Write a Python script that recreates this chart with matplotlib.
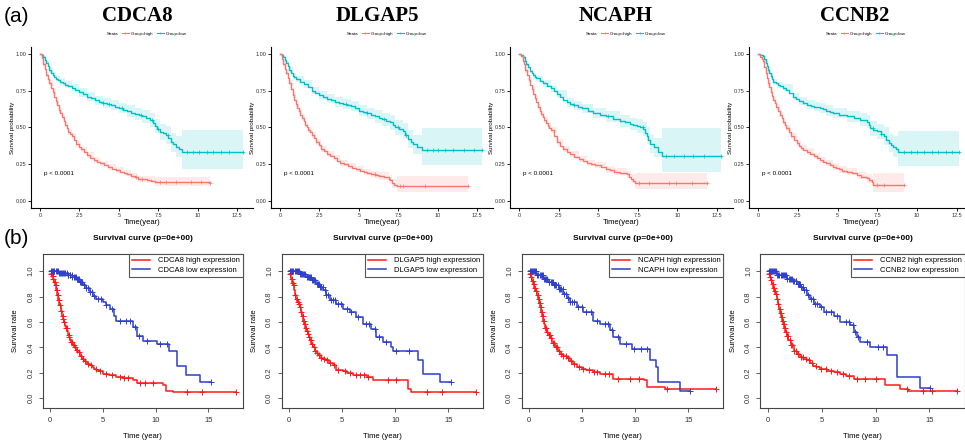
import numpy as np
import matplotlib
matplotlib.use("Agg")
import matplotlib.pyplot as plt
from matplotlib.lines import Line2D

plt.rcParams['font.family'] = ['Liberation Sans', 'DejaVu Sans']

GENES = ["CDCA8", "DLGAP5", "NCAPH", "CCNB2"]

# ================= top row (ggsurvplot style) =================
# ---- CDCA8 ----
c8_hi_t = [0, 0.1, 0.2, 0.3, 0.4, 0.5, 0.6, 0.7, 0.8, 0.9, 1.0, 1.1, 1.2, 1.3, 1.4, 1.5, 1.6, 1.7, 1.8, 1.9, 2.0, 2.15, 2.3, 2.45, 2.6, 2.8, 3.0, 3.2, 3.4, 3.6, 3.8, 4.05, 4.3, 4.55, 4.8, 5.05, 5.3, 5.55, 5.8, 6.0, 6.2, 6.5, 6.8, 7.05, 7.3, 10.8]
c8_hi_s = [1.0, 0.97, 0.93, 0.90, 0.86, 0.83, 0.80, 0.77, 0.74, 0.71, 0.68, 0.65, 0.62, 0.595, 0.57, 0.545, 0.52, 0.495, 0.47, 0.455, 0.44, 0.415, 0.39, 0.37, 0.35, 0.33, 0.31, 0.295, 0.28, 0.268, 0.255, 0.243, 0.23, 0.22, 0.21, 0.20, 0.19, 0.18, 0.17, 0.16, 0.15, 0.147, 0.145, 0.137, 0.13, 0.125]
c8_hi_ci_t = [0, 0.2, 0.4, 0.6, 0.8, 1.0, 1.2, 1.4, 1.6, 1.8, 2.0, 2.3, 2.6, 3.0, 3.4, 3.8, 4.3, 4.8, 5.3, 5.8, 6.2, 6.8, 7.3, 10.8]
c8_hi_lo = [1.0, 0.91, 0.84, 0.78, 0.72, 0.66, 0.60, 0.55, 0.50, 0.45, 0.42, 0.37, 0.33, 0.29, 0.26, 0.235, 0.21, 0.19, 0.17, 0.15, 0.13, 0.12, 0.10, 0.08]
c8_hi_up = [1.0, 0.95, 0.88, 0.82, 0.76, 0.70, 0.64, 0.59, 0.54, 0.49, 0.46, 0.41, 0.37, 0.33, 0.30, 0.275, 0.25, 0.23, 0.21, 0.19, 0.17, 0.17, 0.16, 0.19]
c8_hi_cens = [6.1, 6.5, 7.6, 8.0, 8.6, 9.6, 10.2, 10.8]
c8_lo_t = [0, 0.1, 0.2, 0.3, 0.4, 0.5, 0.6, 0.7, 0.8, 0.9, 1.0, 1.15, 1.3, 1.45, 1.6, 1.8, 2.0, 2.25, 2.5, 2.75, 3.0, 3.25, 3.5, 3.75, 4.0, 4.25, 4.5, 4.75, 5.0, 5.25, 5.5, 5.75, 6.0, 6.25, 6.5, 6.75, 7.0, 7.15, 7.3, 7.45, 7.6, 7.8, 8.0, 8.15, 8.3, 8.45, 8.6, 8.8, 9.0, 12.9]
c8_lo_s = [1.0, 0.99, 0.98, 0.96, 0.94, 0.915, 0.89, 0.87, 0.86, 0.845, 0.83, 0.82, 0.81, 0.80, 0.79, 0.78, 0.77, 0.755, 0.74, 0.725, 0.71, 0.697, 0.685, 0.675, 0.665, 0.66, 0.655, 0.642, 0.63, 0.62, 0.61, 0.60, 0.59, 0.582, 0.575, 0.562, 0.55, 0.53, 0.51, 0.49, 0.47, 0.46, 0.45, 0.425, 0.40, 0.385, 0.37, 0.35, 0.33, 0.33]
c8_lo_ci_t = [0, 0.2, 0.4, 0.6, 0.8, 1.0, 1.3, 1.6, 2.0, 2.5, 3.0, 3.5, 4.0, 4.5, 5.0, 5.5, 6.0, 6.5, 7.0, 7.3, 7.6, 8.0, 8.3, 8.6, 9.0, 12.9]
c8_lo_lo = [1.0, 0.975, 0.93, 0.87, 0.84, 0.81, 0.785, 0.765, 0.745, 0.71, 0.68, 0.655, 0.63, 0.62, 0.595, 0.57, 0.55, 0.53, 0.50, 0.46, 0.415, 0.39, 0.335, 0.30, 0.22, 0.22]
c8_lo_up = [1.0, 0.985, 0.95, 0.91, 0.88, 0.85, 0.835, 0.815, 0.795, 0.77, 0.74, 0.715, 0.70, 0.69, 0.665, 0.65, 0.63, 0.62, 0.60, 0.56, 0.525, 0.51, 0.465, 0.44, 0.48, 0.48]
c8_lo_cens = [4.0, 4.4, 5.2, 6.4, 7.1, 7.5, 8.1, 9.3, 9.7, 10.1, 10.6, 11.0, 11.5, 12.0, 12.9]

# ---- DLGAP5 ----
d5_hi_t = [0, 0.1, 0.2, 0.3, 0.4, 0.5, 0.6, 0.7, 0.8, 0.9, 1.0, 1.1, 1.2, 1.3, 1.4, 1.5, 1.6, 1.7, 1.8, 1.9, 2.0, 2.15, 2.3, 2.45, 2.6, 2.8, 3.0, 3.2, 3.4, 3.6, 3.8, 4.05, 4.3, 4.55, 4.8, 5.05, 5.3, 5.55, 5.8, 6.05, 6.3, 6.6, 6.9, 7.0, 7.1, 7.25, 7.4, 11.9]
d5_hi_s = [1.0, 0.965, 0.93, 0.90, 0.87, 0.835, 0.80, 0.76, 0.72, 0.69, 0.66, 0.635, 0.61, 0.588, 0.565, 0.542, 0.52, 0.502, 0.485, 0.467, 0.45, 0.425, 0.40, 0.378, 0.355, 0.337, 0.32, 0.305, 0.29, 0.275, 0.26, 0.248, 0.235, 0.225, 0.215, 0.205, 0.195, 0.188, 0.18, 0.175, 0.17, 0.16, 0.15, 0.14, 0.12, 0.11, 0.10, 0.10]
d5_hi_ci_t = [0, 0.2, 0.4, 0.6, 0.8, 1.0, 1.2, 1.4, 1.6, 1.8, 2.0, 2.3, 2.6, 3.0, 3.4, 3.8, 4.3, 4.8, 5.3, 5.8, 6.3, 6.9, 7.1, 7.4, 11.9]
d5_hi_lo = [1.0, 0.91, 0.85, 0.78, 0.70, 0.64, 0.59, 0.545, 0.50, 0.465, 0.43, 0.38, 0.335, 0.30, 0.27, 0.24, 0.215, 0.195, 0.175, 0.155, 0.145, 0.125, 0.09, 0.06, 0.06]
d5_hi_up = [1.0, 0.95, 0.89, 0.82, 0.74, 0.68, 0.63, 0.585, 0.54, 0.505, 0.47, 0.42, 0.375, 0.34, 0.31, 0.28, 0.255, 0.235, 0.215, 0.205, 0.195, 0.175, 0.15, 0.17, 0.17]
d5_hi_cens = [6.0, 7.6, 7.8, 9.2, 11.9]
d5_lo_t = [0, 0.1, 0.2, 0.3, 0.4, 0.5, 0.6, 0.7, 0.8, 0.9, 1.0, 1.25, 1.5, 1.75, 2.0, 2.25, 2.5, 2.75, 3.0, 3.25, 3.5, 3.75, 4.0, 4.25, 4.5, 4.75, 5.0, 5.25, 5.5, 5.75, 6.0, 6.25, 6.5, 6.75, 7.0, 7.15, 7.3, 7.55, 7.8, 7.95, 8.1, 8.3, 8.45, 8.7, 9.0, 12.8]
d5_lo_s = [1.0, 0.99, 0.98, 0.96, 0.94, 0.915, 0.89, 0.87, 0.85, 0.84, 0.83, 0.812, 0.795, 0.772, 0.75, 0.735, 0.72, 0.707, 0.695, 0.685, 0.675, 0.667, 0.66, 0.652, 0.645, 0.63, 0.615, 0.605, 0.595, 0.585, 0.575, 0.565, 0.555, 0.545, 0.535, 0.515, 0.50, 0.487, 0.475, 0.447, 0.42, 0.40, 0.385, 0.37, 0.348, 0.348]
d5_lo_ci_t = [0, 0.2, 0.4, 0.6, 0.8, 1.0, 1.5, 2.0, 2.5, 3.0, 3.5, 4.0, 4.5, 5.0, 5.5, 6.0, 6.5, 7.0, 7.3, 7.8, 8.1, 8.45, 9.0, 12.8]
d5_lo_lo = [1.0, 0.975, 0.93, 0.87, 0.83, 0.81, 0.77, 0.725, 0.69, 0.665, 0.64, 0.625, 0.61, 0.575, 0.555, 0.53, 0.51, 0.485, 0.45, 0.42, 0.36, 0.32, 0.245, 0.245]
d5_lo_up = [1.0, 0.985, 0.95, 0.91, 0.87, 0.85, 0.82, 0.775, 0.75, 0.725, 0.71, 0.695, 0.68, 0.655, 0.635, 0.62, 0.60, 0.585, 0.55, 0.53, 0.48, 0.45, 0.495, 0.495]
d5_lo_cens = [4.2, 5.5, 6.6, 7.5, 8.0, 9.3, 9.7, 10.0, 10.5, 11.0, 11.7, 12.3, 12.8]

# ---- NCAPH ----
nc_hi_t = [0, 0.1, 0.25, 0.3, 0.4, 0.5, 0.6, 0.7, 0.8, 0.9, 1.0, 1.1, 1.2, 1.3, 1.4, 1.5, 1.6, 1.7, 1.8, 1.9, 2.0, 2.2, 2.4, 2.6, 2.8, 3.0, 3.2, 3.5, 3.8, 4.05, 4.3, 4.55, 4.8, 5.15, 5.5, 5.75, 6.0, 6.4, 6.8, 6.95, 7.1, 7.2, 7.35, 11.9]
nc_hi_s = [1.0, 0.985, 0.955, 0.93, 0.89, 0.855, 0.82, 0.79, 0.76, 0.73, 0.70, 0.67, 0.64, 0.615, 0.59, 0.57, 0.55, 0.53, 0.51, 0.495, 0.48, 0.44, 0.40, 0.377, 0.355, 0.336, 0.318, 0.30, 0.284, 0.272, 0.26, 0.252, 0.245, 0.23, 0.216, 0.208, 0.20, 0.19, 0.18, 0.165, 0.148, 0.134, 0.12, 0.12]
nc_hi_ci_t = [0, 0.25, 0.4, 0.6, 0.8, 1.0, 1.2, 1.4, 1.6, 1.8, 2.0, 2.4, 2.8, 3.2, 3.8, 4.3, 4.8, 5.5, 6.0, 6.8, 7.1, 7.35, 11.9]
nc_hi_lo = [1.0, 0.94, 0.87, 0.80, 0.74, 0.68, 0.62, 0.57, 0.53, 0.49, 0.46, 0.38, 0.335, 0.298, 0.264, 0.24, 0.222, 0.192, 0.175, 0.155, 0.12, 0.08, 0.08]
nc_hi_up = [1.0, 0.97, 0.91, 0.84, 0.78, 0.72, 0.66, 0.61, 0.57, 0.53, 0.50, 0.42, 0.375, 0.338, 0.304, 0.28, 0.268, 0.24, 0.225, 0.205, 0.18, 0.19, 0.19]
nc_hi_cens = [7.6, 8.2, 9.5, 9.9, 10.9, 11.9]
nc_lo_t = [0, 0.1, 0.25, 0.35, 0.45, 0.55, 0.7, 0.8, 0.9, 1.0, 1.1, 1.3, 1.5, 1.75, 2.0, 2.2, 2.4, 2.6, 2.8, 3.0, 3.25, 3.5, 3.75, 4.0, 4.35, 4.7, 5.1, 5.5, 5.95, 6.4, 6.7, 7.0, 7.2, 7.45, 7.65, 7.85, 7.95, 8.07, 8.17, 8.27, 8.5, 8.75, 9.0, 12.75]
nc_lo_s = [1.0, 0.993, 0.977, 0.955, 0.93, 0.91, 0.886, 0.87, 0.855, 0.845, 0.835, 0.818, 0.80, 0.782, 0.765, 0.745, 0.727, 0.707, 0.688, 0.67, 0.66, 0.65, 0.64, 0.63, 0.615, 0.60, 0.587, 0.575, 0.56, 0.545, 0.534, 0.523, 0.516, 0.51, 0.50, 0.49, 0.465, 0.443, 0.415, 0.386, 0.364, 0.335, 0.307, 0.307]
nc_lo_ci_t = [0, 0.25, 0.45, 0.7, 0.9, 1.1, 1.5, 2.0, 2.4, 3.0, 3.5, 4.0, 4.7, 5.5, 6.4, 7.0, 7.45, 7.85, 8.07, 8.27, 8.5, 9.0, 12.75]
nc_lo_lo = [1.0, 0.97, 0.92, 0.87, 0.83, 0.81, 0.775, 0.74, 0.70, 0.64, 0.62, 0.60, 0.565, 0.54, 0.505, 0.48, 0.465, 0.44, 0.39, 0.325, 0.30, 0.195, 0.195]
nc_lo_up = [1.0, 0.985, 0.94, 0.90, 0.87, 0.85, 0.825, 0.79, 0.755, 0.70, 0.68, 0.66, 0.635, 0.61, 0.585, 0.565, 0.555, 0.54, 0.50, 0.45, 0.43, 0.495, 0.495]
nc_lo_cens = [3.5, 5.6, 7.8, 9.3, 9.8, 10.4, 11.0, 11.7, 12.75]

# ---- CCNB2 ----
cb_hi_t = [0, 0.15, 0.25, 0.32, 0.4, 0.5, 0.57, 0.63, 0.7, 0.8, 0.88, 0.95, 1.05, 1.15, 1.25, 1.37, 1.48, 1.6, 1.7, 1.79, 1.95, 2.1, 2.25, 2.42, 2.55, 2.7, 2.85, 3.05, 3.25, 3.5, 3.7, 3.9, 4.1, 4.3, 4.5, 4.73, 4.9, 5.1, 5.3, 5.57, 5.9, 6.2, 6.5, 6.83, 7.0, 7.14, 7.25, 9.2]
cb_hi_s = [1.0, 0.98, 0.965, 0.95, 0.91, 0.87, 0.835, 0.80, 0.775, 0.74, 0.715, 0.69, 0.665, 0.64, 0.613, 0.586, 0.563, 0.54, 0.517, 0.495, 0.467, 0.44, 0.415, 0.393, 0.376, 0.36, 0.348, 0.336, 0.32, 0.305, 0.292, 0.28, 0.267, 0.255, 0.244, 0.234, 0.224, 0.215, 0.207, 0.20, 0.188, 0.177, 0.166, 0.155, 0.143, 0.132, 0.11, 0.11]
cb_hi_ci_t = [0, 0.15, 0.32, 0.5, 0.63, 0.8, 0.95, 1.15, 1.37, 1.6, 1.79, 2.1, 2.42, 2.7, 3.05, 3.5, 3.9, 4.3, 4.73, 5.1, 5.57, 6.2, 6.83, 7.14, 7.25, 9.2]
cb_hi_lo = [1.0, 0.975, 0.935, 0.85, 0.78, 0.72, 0.67, 0.62, 0.565, 0.52, 0.475, 0.42, 0.373, 0.34, 0.315, 0.285, 0.26, 0.235, 0.213, 0.193, 0.177, 0.152, 0.125, 0.10, 0.06, 0.06]
cb_hi_up = [1.0, 0.985, 0.965, 0.89, 0.82, 0.76, 0.71, 0.66, 0.607, 0.56, 0.515, 0.46, 0.413, 0.38, 0.357, 0.325, 0.30, 0.277, 0.256, 0.237, 0.224, 0.20, 0.185, 0.17, 0.19, 0.19]
cb_hi_cens = [7.5, 7.9, 9.2]
cb_lo_t = [0, 0.15, 0.32, 0.4, 0.5, 0.57, 0.63, 0.7, 0.8, 0.88, 0.95, 1.1, 1.25, 1.4, 1.58, 1.75, 1.95, 2.2, 2.4, 2.6, 2.8, 3.05, 3.3, 3.5, 3.7, 3.9, 4.1, 4.3, 4.5, 4.73, 5.1, 5.57, 6.0, 6.4, 6.83, 6.95, 7.04, 7.25, 7.46, 7.7, 7.9, 8.05, 8.2, 8.35, 8.5, 8.65, 8.82, 12.6]
cb_lo_s = [1.0, 0.995, 0.984, 0.965, 0.94, 0.915, 0.89, 0.87, 0.85, 0.83, 0.81, 0.80, 0.79, 0.78, 0.77, 0.755, 0.735, 0.71, 0.695, 0.68, 0.668, 0.655, 0.647, 0.64, 0.636, 0.632, 0.624, 0.615, 0.607, 0.60, 0.587, 0.575, 0.563, 0.552, 0.54, 0.518, 0.495, 0.484, 0.473, 0.457, 0.44, 0.417, 0.393, 0.382, 0.37, 0.353, 0.336, 0.336]
cb_lo_ci_t = [0, 0.15, 0.32, 0.5, 0.63, 0.8, 0.95, 1.2, 1.58, 2.2, 2.6, 3.05, 3.5, 3.9, 4.3, 4.73, 5.57, 6.4, 6.83, 7.04, 7.46, 7.9, 8.2, 8.5, 8.82, 12.6]
cb_lo_lo = [1.0, 0.99, 0.975, 0.925, 0.87, 0.83, 0.79, 0.77, 0.745, 0.685, 0.655, 0.625, 0.61, 0.60, 0.58, 0.565, 0.54, 0.51, 0.495, 0.445, 0.42, 0.38, 0.33, 0.30, 0.24, 0.24]
cb_lo_up = [1.0, 0.998, 0.99, 0.955, 0.91, 0.87, 0.83, 0.81, 0.795, 0.735, 0.705, 0.685, 0.67, 0.665, 0.65, 0.635, 0.61, 0.595, 0.585, 0.545, 0.525, 0.50, 0.455, 0.44, 0.477, 0.477]
cb_lo_cens = [7.2, 7.7, 9.2, 9.6, 10.0, 10.4, 10.9, 11.3, 11.8, 12.2, 12.6]

# ================= bottom row (base R style) =================
b_c8_hi_t = [0, 0.15, 0.3, 0.4, 0.5, 0.6, 0.7, 0.8, 0.9, 1.0, 1.1, 1.2, 1.3, 1.4, 1.5, 1.6, 1.7, 1.8, 1.9, 2.0, 2.15, 2.3, 2.45, 2.6, 2.8, 3.0, 3.2, 3.4, 3.6, 3.8, 4.0, 4.2, 4.4, 4.6, 5.0, 5.6, 6.3, 7.0, 7.9, 8.2, 10.7, 11.0, 11.7, 17.6]
b_c8_hi_s = [0.98, 0.96, 0.94, 0.915, 0.89, 0.85, 0.81, 0.77, 0.73, 0.69, 0.65, 0.625, 0.60, 0.57, 0.55, 0.525, 0.50, 0.48, 0.46, 0.44, 0.42, 0.40, 0.38, 0.36, 0.335, 0.31, 0.295, 0.28, 0.27, 0.26, 0.245, 0.23, 0.22, 0.21, 0.19, 0.18, 0.165, 0.155, 0.14, 0.118, 0.10, 0.06, 0.047, 0.047]
b_c8_hi_cens = [0.12, 0.27, 0.33, 0.46, 0.58, 0.66, 0.79, 0.88, 0.97, 1.08, 1.19, 1.23, 1.37, 1.52, 1.58, 1.77, 1.84, 2.03, 2.12, 2.28, 2.41, 2.57, 2.72, 2.93, 3.14, 3.32, 3.63, 3.92, 4.33, 4.71, 5.32, 5.84, 6.61, 7.02, 7.44, 8.52, 9.03, 9.74, 13.0, 14.4, 17.6]
b_c8_lo_t = [0, 0.8, 1.6, 2.1, 2.5, 2.8, 3.1, 3.4, 3.75, 4.1, 4.4, 5.0, 5.3, 5.7, 6.1, 6.3, 7.9, 8.2, 8.8, 10.1, 11.3, 12.0, 12.9, 14.2, 15.3]
b_c8_lo_s = [1.0, 0.985, 0.97, 0.955, 0.94, 0.915, 0.89, 0.865, 0.835, 0.805, 0.78, 0.76, 0.73, 0.70, 0.65, 0.61, 0.56, 0.49, 0.45, 0.425, 0.37, 0.25, 0.18, 0.126, 0.126]
b_c8_lo_cens = [0.08, 0.17, 0.31, 0.42, 0.55, 0.63, 0.74, 0.86, 0.95, 1.04, 1.13, 1.26, 1.34, 1.45, 1.57, 1.66, 1.73, 1.86, 1.94, 2.07, 2.13, 2.24, 2.36, 2.44, 2.58, 2.66, 2.77, 2.85, 2.96, 3.08, 3.22, 3.41, 3.58, 3.83, 4.02, 4.21, 4.52, 4.83, 5.31, 5.92, 6.64, 7.18, 7.62, 8.04, 8.43, 9.21, 10.42, 11.05, 15.3]

b_d5_hi_t = [0, 0.15, 0.3, 0.38, 0.5, 0.6, 0.69, 0.8, 0.9, 1.0, 1.1, 1.2, 1.32, 1.42, 1.52, 1.63, 1.75, 1.85, 1.95, 2.1, 2.26, 2.45, 2.6, 2.73, 3.0, 3.25, 3.5, 3.8, 4.1, 4.46, 5.08, 5.5, 6.0, 7.3, 7.9, 11.2, 11.5, 17.6]
b_d5_hi_s = [0.98, 0.94, 0.91, 0.89, 0.85, 0.81, 0.78, 0.755, 0.74, 0.72, 0.68, 0.645, 0.61, 0.585, 0.555, 0.53, 0.505, 0.48, 0.455, 0.425, 0.40, 0.375, 0.355, 0.337, 0.32, 0.31, 0.297, 0.278, 0.258, 0.224, 0.213, 0.195, 0.18, 0.166, 0.14, 0.074, 0.05, 0.05]
b_d5_hi_cens = [0.14, 0.24, 0.36, 0.47, 0.61, 0.73, 0.82, 0.94, 1.07, 1.16, 1.28, 1.39, 1.47, 1.56, 1.71, 1.83, 1.91, 2.05, 2.18, 2.33, 2.47, 2.62, 2.84, 3.02, 3.27, 3.58, 3.86, 4.23, 4.62, 5.25, 5.73, 6.35, 6.72, 7.05, 7.48, 9.33, 10.12, 13.0, 14.4, 17.6]
b_d5_lo_t = [0, 1.0, 1.63, 2.1, 2.57, 2.9, 3.2, 3.5, 3.83, 4.46, 5.08, 5.7, 6.34, 7.0, 7.75, 8.2, 8.85, 9.6, 9.8, 12.1, 12.6, 14.2, 15.3]
b_d5_lo_s = [1.0, 0.975, 0.955, 0.93, 0.90, 0.875, 0.85, 0.81, 0.77, 0.745, 0.705, 0.68, 0.64, 0.587, 0.547, 0.48, 0.44, 0.40, 0.37, 0.297, 0.19, 0.126, 0.126]
b_d5_lo_cens = [0.06, 0.18, 0.29, 0.41, 0.52, 0.64, 0.71, 0.83, 0.92, 1.02, 1.14, 1.22, 1.33, 1.44, 1.53, 1.67, 1.78, 1.87, 1.98, 2.09, 2.17, 2.28, 2.39, 2.48, 2.61, 2.72, 2.83, 2.94, 3.06, 3.18, 3.37, 3.52, 3.71, 3.94, 4.12, 4.33, 4.61, 4.92, 5.42, 5.88, 6.52, 7.24, 7.58, 8.06, 8.52, 9.12, 10.03, 11.28, 15.3]

b_nc_hi_t = [0, 0.15, 0.3, 0.4, 0.5, 0.6, 0.72, 0.82, 0.92, 1.04, 1.15, 1.25, 1.35, 1.45, 1.55, 1.66, 1.8, 1.98, 2.2, 2.45, 2.7, 2.92, 3.2, 3.55, 3.85, 4.17, 4.5, 5.0, 5.4, 6.0, 6.7, 7.9, 10.8, 11.1, 12.8, 17.6]
b_nc_hi_s = [0.98, 0.95, 0.92, 0.90, 0.87, 0.84, 0.81, 0.78, 0.75, 0.72, 0.68, 0.645, 0.61, 0.58, 0.55, 0.52, 0.495, 0.47, 0.435, 0.40, 0.375, 0.35, 0.335, 0.32, 0.295, 0.27, 0.245, 0.232, 0.22, 0.205, 0.19, 0.153, 0.14, 0.087, 0.07, 0.07]
b_nc_hi_cens = [0.11, 0.23, 0.34, 0.48, 0.57, 0.68, 0.81, 0.9, 1.01, 1.12, 1.24, 1.31, 1.43, 1.55, 1.62, 1.74, 1.88, 1.96, 2.11, 2.22, 2.37, 2.51, 2.68, 2.87, 3.05, 3.24, 3.46, 3.71, 3.97, 4.26, 4.68, 5.12, 5.63, 6.08, 6.44, 7.12, 7.56, 8.42, 9.51, 10.33, 13.0, 17.6]
b_nc_lo_t = [0, 0.7, 1.35, 1.8, 2.3, 2.8, 3.23, 3.55, 3.86, 4.5, 5.1, 6.06, 6.7, 7.6, 7.94, 8.57, 9.66, 11.4, 12.0, 12.15, 14.2, 15.2]
b_nc_lo_s = [1.0, 0.97, 0.94, 0.915, 0.89, 0.86, 0.82, 0.79, 0.76, 0.72, 0.68, 0.61, 0.587, 0.534, 0.48, 0.43, 0.39, 0.297, 0.245, 0.126, 0.06, 0.06]
b_nc_lo_cens = [0.07, 0.16, 0.28, 0.37, 0.49, 0.58, 0.69, 0.77, 0.88, 0.99, 1.09, 1.18, 1.29, 1.42, 1.51, 1.63, 1.72, 1.84, 1.93, 2.04, 2.16, 2.26, 2.38, 2.49, 2.57, 2.69, 2.81, 2.9, 3.03, 3.16, 3.33, 3.48, 3.67, 3.89, 4.08, 4.27, 4.63, 4.96, 5.38, 5.83, 6.37, 7.11, 7.48, 7.84, 8.36, 9.14, 9.92, 10.58, 11.07, 15.2]

b_cb_hi_t = [0, 0.15, 0.25, 0.37, 0.5, 0.6, 0.68, 0.8, 0.9, 1.0, 1.1, 1.2, 1.3, 1.4, 1.5, 1.6, 1.75, 1.9, 2.1, 2.4, 2.7, 3.0, 3.3, 3.6, 3.9, 4.2, 4.5, 4.86, 5.5, 6.1, 6.7, 7.3, 7.96, 10.9, 12.3, 13.0, 17.6]
b_cb_hi_s = [0.98, 0.95, 0.93, 0.90, 0.87, 0.845, 0.82, 0.78, 0.74, 0.70, 0.67, 0.64, 0.61, 0.58, 0.55, 0.52, 0.487, 0.455, 0.415, 0.375, 0.35, 0.325, 0.31, 0.297, 0.277, 0.257, 0.243, 0.23, 0.217, 0.205, 0.19, 0.178, 0.152, 0.10, 0.073, 0.055, 0.055]
b_cb_hi_cens = [0.13, 0.22, 0.31, 0.44, 0.53, 0.62, 0.77, 0.86, 0.94, 1.08, 1.17, 1.26, 1.38, 1.46, 1.57, 1.69, 1.78, 1.87, 2.02, 2.14, 2.27, 2.46, 2.63, 2.82, 3.07, 3.28, 3.52, 3.78, 4.06, 4.42, 4.91, 5.36, 5.88, 6.42, 6.95, 7.55, 8.27, 9.05, 10.08, 12.96, 14.4, 15.3, 17.6]
b_cb_lo_t = [0, 0.84, 1.76, 2.3, 2.7, 3.0, 3.3, 3.6, 3.9, 4.24, 4.86, 5.17, 6.1, 6.7, 7.65, 7.96, 8.27, 8.6, 9.5, 11.05, 12.0, 14.1, 15.1]
b_cb_lo_s = [1.0, 0.966, 0.94, 0.92, 0.90, 0.875, 0.848, 0.815, 0.78, 0.743, 0.716, 0.677, 0.65, 0.60, 0.572, 0.52, 0.48, 0.44, 0.40, 0.336, 0.166, 0.08, 0.08]
b_cb_lo_cens = [0.05, 0.14, 0.26, 0.35, 0.46, 0.57, 0.66, 0.75, 0.86, 0.97, 1.06, 1.17, 1.28, 1.37, 1.48, 1.59, 1.68, 1.79, 1.91, 2.02, 2.11, 2.23, 2.34, 2.45, 2.56, 2.64, 2.76, 2.88, 2.97, 3.09, 3.21, 3.39, 3.54, 3.72, 3.96, 4.14, 4.36, 4.57, 4.93, 5.36, 5.82, 6.44, 7.21, 7.58, 7.88, 8.12, 8.39, 9.18, 10.22, 10.74, 15.1]

TOP = [
    (c8_hi_t, c8_hi_s, c8_hi_ci_t, c8_hi_lo, c8_hi_up, c8_hi_cens, c8_lo_t, c8_lo_s, c8_lo_ci_t, c8_lo_lo, c8_lo_up, c8_lo_cens),
    (d5_hi_t, d5_hi_s, d5_hi_ci_t, d5_hi_lo, d5_hi_up, d5_hi_cens, d5_lo_t, d5_lo_s, d5_lo_ci_t, d5_lo_lo, d5_lo_up, d5_lo_cens),
    (nc_hi_t, nc_hi_s, nc_hi_ci_t, nc_hi_lo, nc_hi_up, nc_hi_cens, nc_lo_t, nc_lo_s, nc_lo_ci_t, nc_lo_lo, nc_lo_up, nc_lo_cens),
    (cb_hi_t, cb_hi_s, cb_hi_ci_t, cb_hi_lo, cb_hi_up, cb_hi_cens, cb_lo_t, cb_lo_s, cb_lo_ci_t, cb_lo_lo, cb_lo_up, cb_lo_cens),
]
BOTTOM = [
    (b_c8_hi_t, b_c8_hi_s, b_c8_hi_cens, b_c8_lo_t, b_c8_lo_s, b_c8_lo_cens),
    (b_d5_hi_t, b_d5_hi_s, b_d5_hi_cens, b_d5_lo_t, b_d5_lo_s, b_d5_lo_cens),
    (b_nc_hi_t, b_nc_hi_s, b_nc_hi_cens, b_nc_lo_t, b_nc_lo_s, b_nc_lo_cens),
    (b_cb_hi_t, b_cb_hi_s, b_cb_hi_cens, b_cb_lo_t, b_cb_lo_s, b_cb_lo_cens),
]

TOP_XTICKS = [0, 2.5, 5, 7.5, 10, 12.5]
TOP_XTICKLABELS = ["0", "2.5", "5", "7.5", "10", "12.5"]
TOP_YTICKS = [0, 0.25, 0.5, 0.75, 1.0]
TOP_YTICKLABELS = ["0.00", "0.25", "0.50", "0.75", "1.00"]
BOT_XTICKS = [0, 5, 10, 15]
BOT_YTICKS = [0, 0.2, 0.4, 0.6, 0.8, 1.0]
BOT_YTICKLABELS = ["0.0", "0.2", "0.4", "0.6", "0.8", "1.0"]

RED_G, TEAL_G = "#F8766D", "#00BFC4"
RED_R, BLUE_R = "#FF1A1A", "#2E3FCC"

W, H = 965, 448
fig = plt.figure(figsize=(W / 100, H / 100), dpi=100)


def ax_px(left, top, width, height):
    return fig.add_axes([left / W, 1 - (top + height) / H, width / W, height / H])


def step_y(t, s, c):
    t = np.asarray(t); s = np.asarray(s)
    idx = np.clip(np.searchsorted(t, np.asarray(c), side="right") - 1, 0, len(s) - 1)
    return s[idx]


# ---- top row ----
top_x0 = [40, 280, 519, 758]
top_k = [15.76, 15.76, 15.84, 15.92]
for i, gene in enumerate(GENES):
    (ht, hs, hct, hlo, hup, hc, lt, ls, lct, llo, lup, lc) = TOP[i]
    x0, k = top_x0[i], top_k[i]
    xmin, xmax = -0.55, 13.5
    ax = ax_px(x0 + xmin * k, 46.6, (xmax - xmin) * k, 161.7)
    ax.fill_between(lct, llo, lup, step="post", color=TEAL_G, alpha=0.15, lw=0)
    ax.fill_between(hct, hlo, hup, step="post", color=RED_G, alpha=0.15, lw=0)
    ax.step(lt, ls, where="post", color=TEAL_G, lw=1.0)
    ax.step(ht, hs, where="post", color=RED_G, lw=1.0)
    ax.plot(lc, step_y(lt, ls, lc), ls="none", marker="+", ms=2.5, mew=0.5, color=TEAL_G)
    ax.plot(hc, step_y(ht, hs, hc), ls="none", marker="+", ms=2.5, mew=0.5, color=RED_G)
    ax.set_xlim(xmin, xmax)
    ax.set_ylim(-0.05, 1.05)
    for sp in ["top", "right"]:
        ax.spines[sp].set_visible(False)
    for sp in ["left", "bottom"]:
        ax.spines[sp].set_linewidth(0.8)
    ax.set_xticks(TOP_XTICKS)
    ax.set_xticklabels(TOP_XTICKLABELS)
    ax.set_yticks(TOP_YTICKS)
    ax.set_yticklabels(TOP_YTICKLABELS)
    ax.tick_params(length=2, width=0.6, labelsize=4, pad=1.5, labelcolor="#333333")
    ax.set_xlabel("Time(year)", fontsize=5.5, labelpad=0.5)
    ax.set_ylabel("Survival probability", fontsize=4.5, labelpad=0.5)
    ax.text(0.25, 0.19, "p < 0.0001", fontsize=4.5, ha="left", va="center")
    handles = [Line2D([], [], alpha=0),
               Line2D([], [], color=RED_G, lw=0.8, marker="+", ms=2, mew=0.5),
               Line2D([], [], color=TEAL_G, lw=0.8, marker="+", ms=2, mew=0.5)]
    ax.legend(handles, ["Strata", "Group=high", "Group=low"], ncol=3, loc="center",
              bbox_to_anchor=(0.5, 1.078), fontsize=3.2, frameon=False,
              handlelength=1.6, handletextpad=0.4, columnspacing=0.8)
    fig.text((x0 + 97) / W, 1 - 16 / H, gene, fontsize=15, fontweight="bold",
             family="Liberation Serif", ha="center", va="center")

# ---- bottom row ----
bot_x0 = [50, 289, 529, 768]
bot_k = [10.55, 10.62, 10.62, 10.75]
for i, gene in enumerate(GENES):
    (ht, hs, hc, lt, ls, lc) = BOTTOM[i]
    x0, k = bot_x0[i], bot_k[i]
    xmin, xmax = -0.7, 18.3
    ax = ax_px(x0 + xmin * k, 254, (xmax - xmin) * k, 154.3)
    ax.step(ht, hs, where="post", color=RED_R, lw=1.1)
    ax.step(lt, ls, where="post", color=BLUE_R, lw=1.1)
    ax.plot(hc, step_y(ht, hs, hc), ls="none", marker="+", ms=4.5, mew=0.7, color=RED_R)
    ax.plot(lc, step_y(lt, ls, lc), ls="none", marker="+", ms=4.5, mew=0.7, color=BLUE_R)
    ax.set_xlim(xmin, xmax)
    ax.set_ylim(-0.08, 1.135)
    for sp in ax.spines.values():
        sp.set_linewidth(0.8)
        sp.set_color("#444444")
    ax.set_xticks(BOT_XTICKS)
    ax.set_yticks(BOT_YTICKS)
    ax.set_yticklabels(BOT_YTICKLABELS, rotation=90, va="center")
    ax.tick_params(length=3, width=0.6, labelsize=5.5, pad=3, color="#444444", labelcolor="#333333")
    ax.set_xlabel("Time (year)", fontsize=5.5, labelpad=7)
    ax.set_ylabel("Survival rate", fontsize=5.5, labelpad=6)
    ax.set_title("Survival curve (p=0e+00)", fontsize=6, fontweight="bold", pad=10)
    leg = ax.legend([Line2D([], [], color=RED_R, lw=1.1), Line2D([], [], color=BLUE_R, lw=1.1)],
                    [gene + " high expression", gene + " low expression"],
                    loc="upper right", borderaxespad=0, fontsize=5.5, fancybox=False,
                    framealpha=1, handlelength=2.4, handletextpad=1.0,
                    borderpad=0.4, labelspacing=0.25)
    leg.get_frame().set_edgecolor("#555555")
    leg.get_frame().set_linewidth(0.8)

fig.text(4 / W, 1 - 16 / H, "(a)", fontsize=15, ha="left", va="center")
fig.text(4 / W, 1 - 238 / H, "(b)", fontsize=15, ha="left", va="center")

fig.savefig("out.png", dpi=100)
